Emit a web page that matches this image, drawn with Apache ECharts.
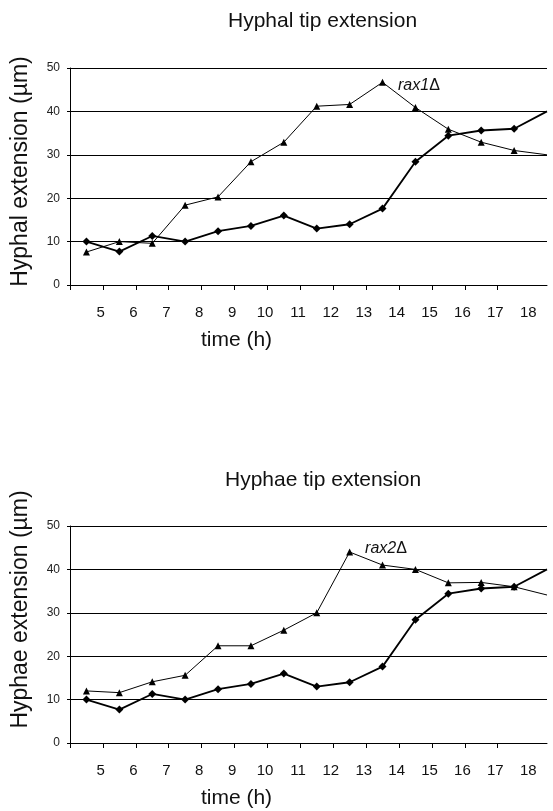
<!DOCTYPE html>
<html lang="en">
  <head>
    <meta charset="UTF-8" />
    <title>Hyphal tip extension</title>
    <script src="https://cdn.jsdelivr.net/npm/echarts@6/dist/echarts.min.js"></script>
  </head>
  <style>
    html,
    body {
      margin: 0;
      padding: 0;
      background: #fff;
    }
    #echart {
      width: 553px;
      height: 811px;
    }
  </style>
  <body>
    <div id="echart"></div>
  </body>
  <script>
    // tick labels (hours)
    const timeLabels = ["5", "6", "7", "8", "9", "10", "11", "12", "13", "14", "15", "16", "17", "18"];
    // wild type, same in both panels
    const wildType = [10, 7.7, 11.3, 10, 12.4, 13.6, 16, 13, 14, 17.6, 28.4, 34.4, 35.6, 36, 40];
    const rax1 = [7.6, 10, 9.6, 18.4, 20.3, 28.4, 32.9, 41.2, 41.6, 46.7, 40.9, 35.9, 32.9, 31, 30];
    const rax2 = [12, 11.6, 14.1, 15.6, 22.4, 22.4, 26, 30, 44, 41, 40, 36.9, 37, 36, 34.1];

    const font = "Liberation Sans";
    const chart = echarts.init(document.getElementById("echart"));

    // ticks sit between the points, labels a bit right of them
    const tickVals = timeLabels.map((t, i) => i - 0.5);
    const labelVals = timeLabels.map((t, i) => i + 0.43);

    function makeData(values, mutant) {
      const peak = values.indexOf(Math.max(...values));
      return values.map((v, i) => {
        const item = { value: [i, v] };
        if (i === values.length - 1) item.symbol = "none";
        if (i === peak && mutant) {
          item.label = {
            show: true,
            position: "right",
            distance: 12,
            offset: [0, mutant === "rax1" ? 3 : -3],
            formatter: "{it|" + mutant + "}{n|Δ}",
            rich: {
              it: { fontStyle: "italic", fontSize: 16, fontFamily: font, color: "#111" },
              n: { fontSize: 16, fontFamily: font, color: "#111" },
            },
          };
        }
        return item;
      });
    }

    function xAxis(gridIndex) {
      return {
        type: "value",
        gridIndex: gridIndex,
        min: -0.5,
        max: 14,
        name: "time (h)",
        nameLocation: "middle",
        nameGap: 45,
        nameTextStyle: { fontSize: 21, fontFamily: font, color: "#111", padding: [0, 144, 0, 0] },
        axisLine: { onZero: false, lineStyle: { color: "#000", width: 1 } },
        axisTick: { customValues: tickVals, length: 5, lineStyle: { color: "#000" } },
        axisLabel: {
          customValues: labelVals,
          margin: 20,
          fontSize: 15,
          fontFamily: font,
          color: "#111",
          formatter: (v) => timeLabels[Math.round(v - 0.43)],
        },
        splitLine: { show: false },
      };
    }

    function yAxis(gridIndex, name, shift) {
      return {
        type: "value",
        gridIndex: gridIndex,
        min: 0,
        max: 50,
        interval: 10,
        name: name,
        nameLocation: "middle",
        nameGap: 38,
        nameTextStyle: { fontSize: 23, fontFamily: font, color: "#111", padding: [0, 0, 0, shift] },
        axisLine: { show: true, onZero: false, lineStyle: { color: "#000", width: 1 } },
        axisTick: { show: true, length: 3, lineStyle: { color: "#000" } },
        axisLabel: { margin: 10, fontSize: 12, fontFamily: font, color: "#222" },
        splitLine: { lineStyle: { color: "#000", width: 1 } },
      };
    }

    function lineSeries(idx, values, mutant) {
      const thick = !mutant;
      return {
        type: "line",
        xAxisIndex: idx,
        yAxisIndex: idx,
        data: makeData(values, mutant),
        symbol: thick ? "diamond" : "triangle",
        symbolSize: thick ? 8 : 7,
        color: "#000",
        lineStyle: { color: "#000", width: thick ? 1.8 : 1 },
        itemStyle: { color: "#000" },
        animation: false,
      };
    }

    const option = {
      animation: false,
      title: [
        {
          text: "Hyphal tip extension",
          left: 228,
          top: 11,
          padding: 0,
          textStyle: { fontSize: 21, fontWeight: "normal", fontFamily: font, color: "#111" },
        },
        {
          text: "Hyphae tip extension",
          left: 225,
          top: 470,
          padding: 0,
          textStyle: { fontSize: 21, fontWeight: "normal", fontFamily: font, color: "#111" },
        },
      ],
      grid: [
        { left: 70, right: 6, top: 68, height: 217 },
        { left: 70, right: 6, top: 526, height: 217 },
      ],
      xAxis: [xAxis(0), xAxis(1)],
      yAxis: [yAxis(0, "Hyphal extension (µm)", 10), yAxis(1, "Hyphae extension (µm)", 50)],
      series: [
        lineSeries(0, wildType, null),
        lineSeries(0, rax1, "rax1"),
        lineSeries(1, wildType, null),
        lineSeries(1, rax2, "rax2"),
      ],
    };

    chart.setOption(option);
  </script>
</html>
